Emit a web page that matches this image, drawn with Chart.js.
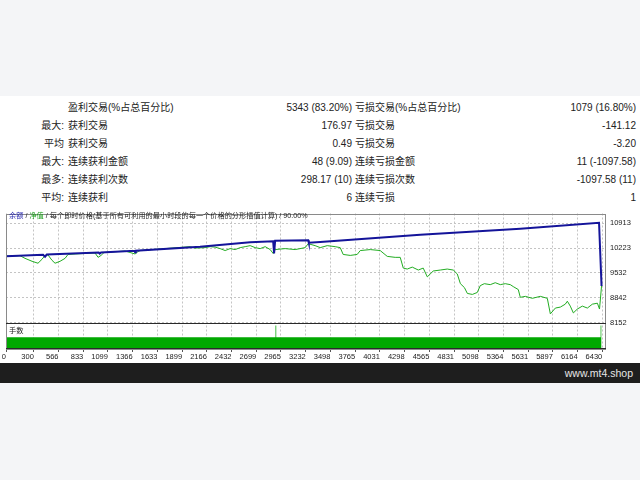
<!DOCTYPE html>
<html>
<head>
<meta charset="utf-8">
<script src="https://cdn.jsdelivr.net/npm/chart.js@4.4.1/dist/chart.umd.min.js"></script>
<style>
  html, body { margin: 0; padding: 0; }
  body { width: 640px; height: 480px; background: #f4f5f7; position: relative; overflow: hidden;
         font-family: "Liberation Sans", "Noto Sans CJK SC", sans-serif; color: #222; }
  #panel { position: absolute; left: 0; top: 96px; width: 640px; height: 267px; background: #fff; }
  #stats { position: absolute; left: 0; top: 3px; width: 636px; border-collapse: collapse; table-layout: fixed; font-size: 10px; }
  #stats td { height: 18px; padding: 0; white-space: nowrap; line-height: 18px; }
  #stats td.pre { text-align: right; padding-right: 2px; }
  #stats td.lab { padding-left: 2px; }
  #stats td.val { text-align: right; }
  #stats td.lab2 { padding-left: 3px; }
  #wrap { position: absolute; left: 0; top: 109px; width: 640px; height: 158px; }
  #head { position: absolute; left: 9px; top: 115px; font-size: 7.2px; line-height: 9px; white-space: nowrap; color: #222; }
  #lots { position: absolute; left: 9px; top: 230px; font-size: 7.2px; line-height: 9px; color: #222; }
  #footer { position: absolute; left: 0; top: 363px; width: 633px; height: 20px; padding-right: 7px; background: #1e1e1e;
            color: #e6e6e6; font-size: 10.5px; line-height: 20px; text-align: right; }
</style>
</head>
<body>
<div id="panel">
  <table id="stats">
    <colgroup><col style="width:66px"><col style="width:200px"><col style="width:86px"><col style="width:168px"><col style="width:116px"></colgroup>
    <tbody id="statsBody"></tbody>
  </table>
  <div id="wrap"><canvas id="myChart" width="640" height="158"></canvas></div>
  <div id="head"><span style="color:#2b2bb0">余额</span> / <span style="color:#1a9e1a">净值</span> / 每个即时价格(基于所有可利用的最小时段的每一个价格的分形插值计算) / 90.00%</div>
  <div id="lots">手数</div>
</div>
<div id="footer">www.mt4.shop</div>
<script>
// report table
var statPrefix = ['', '最大:', '平均', '最大:', '最多:', '平均:']
var statLeftLabel = ['盈利交易(%占总百分比)', '获利交易', '获利交易', '连续获利金额', '连续获利次数', '连续获利']
var statLeftValue = ['5343 (83.20%)', '176.97', '0.49', '48 (9.09)', '298.17 (10)', '6']
var statRightLabel = ['亏损交易(%占总百分比)', '亏损交易', '亏损交易', '连续亏损金额', '连续亏损次数', '连续亏损']
var statRightValue = ['1079 (16.80%)', '-141.12', '-3.20', '11 (-1097.58)', '-1097.58 (11)', '1']

// chart axes
var xTicks = [0, 300, 566, 833, 1099, 1366, 1633, 1899, 2166, 2432, 2699, 2965, 3232, 3498, 3765,
  4031, 4298, 4565, 4831, 5098, 5364, 5631, 5897, 6164, 6430]
var yTicks = [8152, 8842, 9532, 10223, 10913]

// balance (blue)
var balanceTrades = [0, 400, 421, 440, 1000, 1010, 1025, 1385, 1392, 1400, 2093, 2633, 2881, 2891, 2902,
  3259, 3265, 3388, 4467, 5546, 6395, 6422]
var balanceValues = [10000, 10040, 9985, 10045, 10098, 10070, 10103, 10150, 10105, 10152, 10263, 10385, 10412, 10074, 10426,
  10439, 10372, 10390, 10596, 10759, 10927, 9170]

// equity (green)
var equityTrades = [0, 151, 205, 281, 345, 388, 421, 453, 496, 529, 583, 637, 669, 745, 960, 993, 1025, 1057,
  1284, 1338, 1392, 1424, 1446, 1985, 2039, 2147, 2201, 2255, 2309, 2363, 2417, 2471, 2525, 2579, 2633, 2687,
  2741, 2795, 2849, 2881, 2902, 3010, 3118, 3226, 3259, 3334, 3388, 3464, 3550, 3604, 3636, 3712, 3787, 3820,
  3928, 4035, 4111, 4197, 4251, 4284, 4327, 4381, 4446, 4499, 4543, 4607, 4683, 4758, 4823, 4866, 4900, 4943,
  4975, 5029, 5082, 5114, 5158, 5222, 5276, 5330, 5384, 5438, 5470, 5524, 5546, 5600, 5676, 5762, 5837, 5870,
  5924, 5978, 6031, 6053, 6085, 6118, 6161, 6215, 6269, 6323, 6377, 6400, 6422]
var equityValues = [10000, 10012, 9939, 9857, 9803, 9912, 10020, 10033, 9884, 9803, 9857, 9939, 10047, 10060, 10088, 9966, 10020, 10101,
  10142, 10101, 10060, 10128, 10155, 10263, 10223, 10236, 10263, 10250, 10209, 10155, 10209, 10182, 10236, 10263, 10291, 10236,
  10209, 10263, 10182, 10074, 10182, 10209, 10182, 10236, 10345, 10291, 10236, 10291, 10263, 10236, 10047, 10020, 10047, 10155,
  10182, 10155, 9993, 9966, 9966, 9668, 9641, 9695, 9614, 9668, 9424, 9587, 9614, 9641, 9614, 9506, 9235, 9127,
  8964, 8937, 8991, 9181, 9235, 9208, 9262, 9208, 9235, 9208, 9154, 9072, 8856, 8883, 8829, 8883, 8829, 8396,
  8558, 8585, 8666, 8748, 8612, 8423, 8531, 8612, 8558, 8666, 8693, 8531, 9170]

// lots panel
var lotTrades = [0, 2906, 2914, 6412, 6422]
var lotValues = [0.01, 0.02, 0.01, 0.02, 0.02]

var body = document.getElementById('statsBody')
for (var i = 0; i < statPrefix.length; i++) {
  var tr = document.createElement('tr')
  tr.innerHTML = '<td class="pre">' + statPrefix[i] + '</td><td class="lab">' + statLeftLabel[i] +
    '</td><td class="val">' + statLeftValue[i] + '</td><td class="lab2">' + statRightLabel[i] +
    '</td><td class="val">' + statRightValue[i] + '</td>'
  body.appendChild(tr)
}

function pts(xs, ys) {
  return xs.map(function (x, i) { return { x: x, y: ys[i] } })
}

var frame = {
  id: 'frame',
  afterDraw: function (chart) {
    var ctx = chart.ctx, a = chart.chartArea
    var sep = Math.round(chart.scales.y2.top) + 0.5
    ctx.save()
    ctx.lineWidth = 1
    ctx.strokeStyle = '#8a8a8a'
    ctx.strokeRect(Math.round(a.left) + 0.5, Math.round(a.top) + 0.5, Math.round(a.width) - 1, Math.round(a.height) - 1)
    ctx.strokeStyle = '#2a2a2a'
    ctx.beginPath()
    ctx.moveTo(a.left, sep)
    ctx.lineTo(a.right, sep)
    ctx.moveTo(a.left, Math.round(a.bottom) - 0.5)
    ctx.lineTo(a.right, Math.round(a.bottom) - 0.5)
    ctx.stroke()
    ctx.restore()
  }
}

var tickFont = { family: 'Liberation Sans', size: 7.5 }
var ctx = document.getElementById('myChart').getContext('2d')
var myChart = new Chart(ctx, {
  type: 'line',
  data: {
    datasets: [
      {
        label: '余额',
        data: pts(balanceTrades, balanceValues),
        borderColor: '#14149a',
        borderWidth: 2,
        pointRadius: 0,
        yAxisID: 'y',
      },
      {
        label: '净值',
        data: pts(equityTrades, equityValues),
        borderColor: '#22ac22',
        borderWidth: 1,
        pointRadius: 0,
        yAxisID: 'y',
      },
      {
        label: '手数',
        data: pts(lotTrades, lotValues),
        stepped: true,
        borderWidth: 0,
        borderColor: 'rgba(0,0,0,0)',
        backgroundColor: '#00a800',
        fill: 'origin',
        pointRadius: 0,
        yAxisID: 'y2',
      },
    ],
  },
  options: {
    responsive: false,
    animation: { duration: 0 },
    layout: { padding: { left: 6, top: 5, right: 0, bottom: 0 } },
    plugins: { legend: { display: false }, tooltip: { enabled: false } },
    scales: {
      x: {
        type: 'linear',
        min: 0,
        max: 6470,
        afterBuildTicks: function (s) { s.ticks = xTicks.map(function (v) { return { value: v } }) },
        afterFit: function (s) { s.height = 14 },
        ticks: { autoSkip: false, maxRotation: 0, minRotation: 0, align: 'end', padding: 0, color: '#222', font: tickFont,
          callback: function (v) { return String(v) } },
        grid: { color: '#c4c4c4', tickLength: 3, tickColor: '#555', tickBorderDash: [10, 0] },
        border: { display: false, dash: [2, 2] },
      },
      y: {
        type: 'linear',
        position: 'right',
        stack: 'v',
        stackWeight: 112,
        min: 8152,
        max: 11184,
        afterBuildTicks: function (s) { s.ticks = yTicks.map(function (v) { return { value: v } }) },
        afterFit: function (s) { s.width = 34 },
        ticks: { padding: 4, color: '#222', font: tickFont, callback: function (v) { return String(v) } },
        grid: { color: '#c4c4c4', drawTicks: false },
        border: { display: false, dash: [2, 2] },
      },
      y2: {
        type: 'linear',
        position: 'right',
        stack: 'v',
        stackWeight: 27,
        min: 0,
        max: 0.0225,
        afterFit: function (s) { s.width = 34 },
        ticks: { display: false },
        grid: { display: false },
        border: { display: false },
      },
    },
  },
  plugins: [frame],
})
</script>
</body>
</html>
